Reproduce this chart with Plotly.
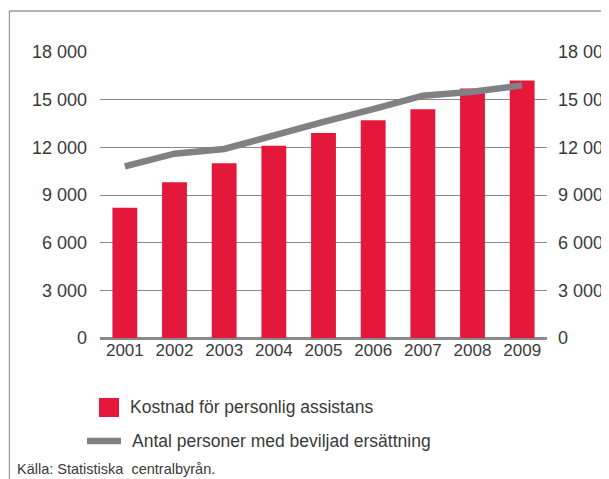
import plotly.graph_objects as go

# data
years = ['2001', '2002', '2003', '2004', '2005', '2006', '2007', '2008', '2009']
kostnad = [8200, 9800, 11000, 12100, 12900, 13700, 14400, 15700, 16200]
antal = [10800, 11600, 11900, 12800, 13600, 14400, 15250, 15500, 15900]
tick_vals = [0, 3000, 6000, 9000, 12000, 15000, 18000]
tick_text = ['0', '3 000', '6 000', '9 000', '12 000', '15 000', '18 000']

# the page puts the figure 8px in from the top-left corner
OFF = 8
W, H = 609 - OFF, 479 - OFF
# plot area in window pixels
L, R, T, B = 100, 546.7, 52, 338

def px(x):
    return (x - L) / (R - L)

def py(y):
    return (B - y) / (B - T)

font = 'Liberation Sans, Arial, sans-serif'
red = '#e3183a'
grey = '#808085'
txt = '#3a3a3a'

fig = go.Figure()

fig.add_trace(go.Bar(
    x=years, y=kostnad,
    name='Kostnad för personlig assistans',
    marker_color=red, marker_line_width=0,
    showlegend=False))

fig.add_trace(go.Scatter(
    x=years, y=antal, yaxis='y2',
    name='Antal personer med beviljad ersättning',
    mode='lines', line=dict(color=grey, width=6.5),
    showlegend=False))

y_font = dict(family=font, size=18, color=txt)

fig.update_layout(
    width=W, height=H,
    margin=dict(l=L - OFF, r=W - (R - OFF), t=T - OFF, b=H - (B - OFF)),
    paper_bgcolor='white', plot_bgcolor='rgba(0,0,0,0)',
    bargap=0.5,
    xaxis=dict(showgrid=False, ticks='', automargin=False,
               tickfont=dict(family=font, size=17, color=txt),
               showline=False, zeroline=False),
    yaxis=dict(range=[0, 18000], tickvals=tick_vals, ticktext=tick_text,
               tickfont=y_font, showgrid=True, gridcolor='#8a8a8a',
               gridwidth=1.3, zeroline=True, zerolinecolor='#8a8a8a',
               zerolinewidth=2.5, ticklabelstandoff=12, automargin=False),
    yaxis2=dict(range=[0, 18000], tickvals=tick_vals, ticktext=tick_text,
                tickfont=y_font, overlaying='y', side='right',
                showgrid=False, zeroline=False, ticklabelstandoff=10,
                automargin=False),
)

# frame on the left and top edge
fig.add_shape(type='line', xref='paper', yref='paper',
              x0=px(9.5), x1=px(620), y0=py(11), y1=py(11),
              line=dict(color='#9a9a9a', width=1.3))
fig.add_shape(type='line', xref='paper', yref='paper',
              x0=px(9.5), x1=px(9.5), y0=py(11), y1=py(490),
              line=dict(color='#9a9a9a', width=1.3))

# legend drawn by hand below the chart
fig.add_shape(type='rect', xref='paper', yref='paper',
              x0=px(99), x1=px(119), y0=py(417), y1=py(398),
              fillcolor=red, line_width=0)
fig.add_shape(type='line', xref='paper', yref='paper',
              x0=px(87), x1=px(121), y0=py(441), y1=py(441),
              line=dict(color=grey, width=6.5))
fig.add_annotation(x=px(128), y=py(407), xref='paper', yref='paper',
                   text='Kostnad för personlig assistans', showarrow=False,
                   xanchor='left', yanchor='middle',
                   font=dict(family=font, size=17.5, color=txt))
fig.add_annotation(x=px(130), y=py(441), xref='paper', yref='paper',
                   text='Antal personer med beviljad ersättning', showarrow=False,
                   xanchor='left', yanchor='middle',
                   font=dict(family=font, size=17.5, color=txt))

# source
fig.add_annotation(x=px(15), y=py(469), xref='paper', yref='paper',
                   text='Källa: Statistiska\u00a0 centralbyrån.', showarrow=False,
                   xanchor='left', yanchor='middle',
                   font=dict(family=font, size=14.5, color=txt))

fig.write_html('out.html')
